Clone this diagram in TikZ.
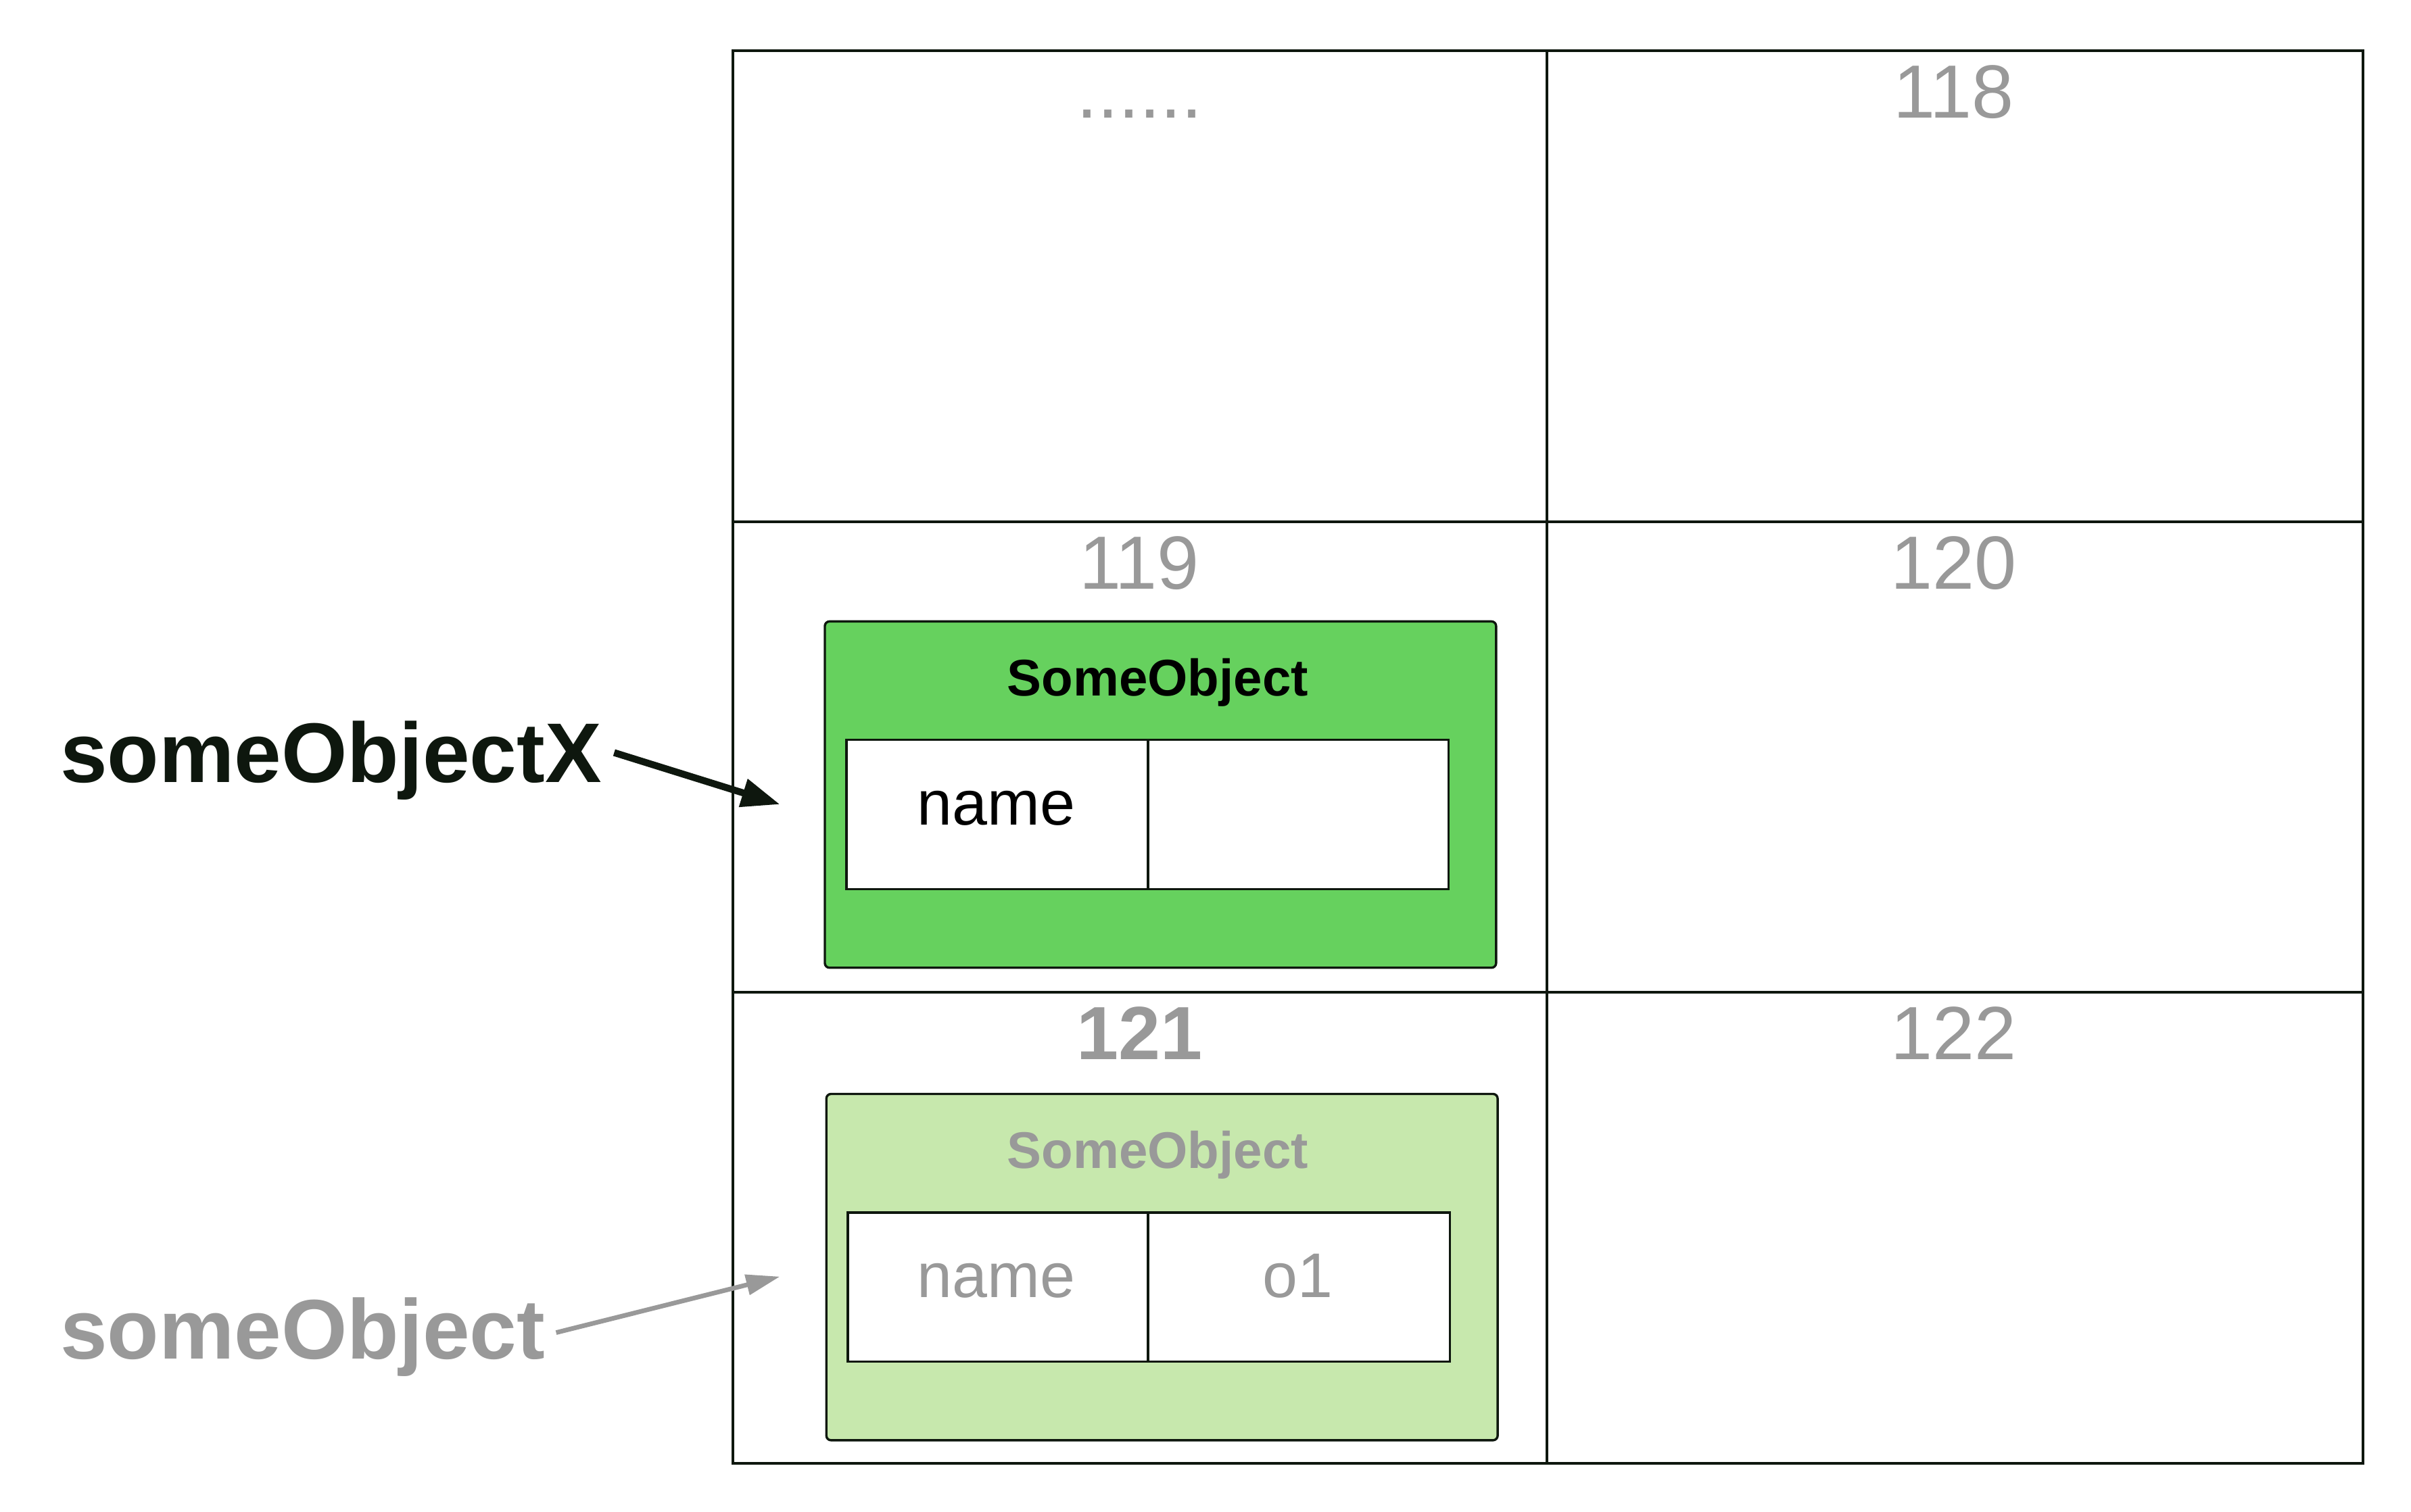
\documentclass[tikz,border=0pt]{standalone}
\usepackage{fontspec}
\setmainfont{Liberation Sans}
\usetikzlibrary{arrows.meta}
\definecolor{ink}{HTML}{0E170E}
\definecolor{greytxt}{HTML}{999999}
\definecolor{gfill}{HTML}{66D15E}
\definecolor{lfill}{HTML}{C7E8AD}
\tikzset{
  cellbox/.style={draw=ink,line width=1.75pt,anchor=north west,inner sep=0pt,minimum height=306pt},
  numtxt/.style={text=greytxt,font=\fontsize{49}{49}\selectfont,anchor=base,inner sep=0pt},
  objbox/.style={draw=ink,line width=1.5pt,rounded corners=3pt,anchor=north west,minimum width=436pt,minimum height=225pt,inner sep=0pt},
  fieldbox/.style={draw=ink,fill=white,line width=1.5pt,anchor=north west,minimum height=97pt,inner sep=0pt},
  titletxt/.style={font=\fontsize{33.5}{33.5}\selectfont\bfseries,anchor=base,inner sep=0pt},
  fieldtxt/.style={font=\fontsize{41}{41}\selectfont,anchor=base,inner sep=0pt},
  vartxt/.style={font=\fontsize{55}{55}\selectfont\bfseries,anchor=base west,inner sep=0pt},
  ptrblack/.style={draw=ink,line width=4.5pt,-{Triangle[length=25pt,width=18pt]}},
  ptrgrey/.style={draw=greytxt,line width=3pt,-{Triangle[length=22pt,width=13pt]}}
}
\begin{document}
\begin{tikzpicture}[x=1pt,y=-1pt]
\useasboundingbox (0,0) rectangle (1566,982);
% grid cells
\node[cellbox,minimum width=529pt] (c11) at (475,32) {};
\node[cellbox,minimum width=530pt] (c12) at (1004,32) {};
\node[cellbox,minimum width=529pt] (c21) at (475,338) {};
\node[cellbox,minimum width=530pt] (c22) at (1004,338) {};
\node[cellbox,minimum width=529pt] (c31) at (475,644) {};
\node[cellbox,minimum width=530pt] (c32) at (1004,644) {};
% cell labels
\node[numtxt] (n11) at (740,76.5) {......};
\node[numtxt] (n12) at (1269,76.5) {118};
\node[numtxt] (n21) at (740,382.5) {119};
\node[numtxt] (n22) at (1269,382.5) {120};
\node[numtxt,font=\fontsize{49}{49}\selectfont\bfseries] (n31) at (740,688.5) {121};
\node[numtxt] (n32) at (1269,688.5) {122};
% object X (green)
\node[objbox,fill=gfill] (objx) at (535,403) {};
\node[titletxt] (tx) at (752,452) {SomeObject};
\node[fieldbox,minimum width=196pt] (fx1) at (549,480) {};
\node[fieldbox,minimum width=195pt] (fx2) at (745,480) {};
\node[fieldtxt] (nx) at (647,535.8) {name};
% object (light green)
\node[objbox,fill=lfill] (obj) at (536,710) {};
\node[titletxt,text=greytxt] (to) at (752,759) {SomeObject};
\node[fieldbox,minimum width=195pt] (fo1) at (550,787) {};
\node[fieldbox,minimum width=196pt] (fo2) at (745,787) {};
\node[fieldtxt,text=greytxt] (no) at (647,842.8) {name};
\node[fieldtxt,text=greytxt] (vo) at (843,842.8) {o1};
% variables
\node[vartxt,text=ink] (vx) at (39,508.5) {someObjectX};
\node[vartxt,text=greytxt] (vg) at (39,882.8) {someObject};
\coordinate (tipx) at (506.6,522.6);
\coordinate (tipg) at (506.6,829.4);
\draw[ptrblack] ([shift={(8,-19.5)}]vx.base east) -- (tipx);
\draw[ptrgrey] ([shift={(7,-17)}]vg.base east) -- (tipg);
\end{tikzpicture}
\end{document}
